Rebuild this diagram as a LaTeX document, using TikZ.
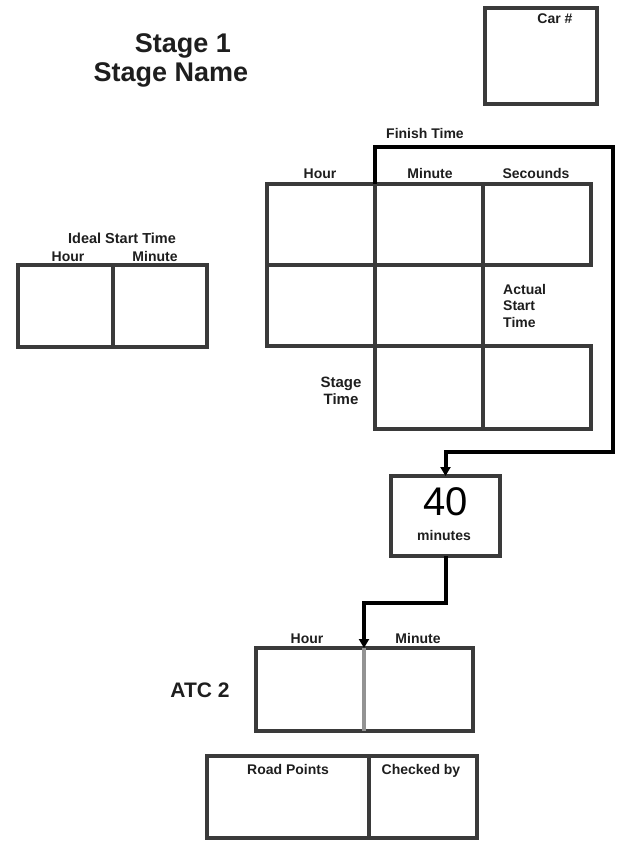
\documentclass[tikz,border=0pt]{standalone}
\usepackage{fontspec}
\setmainfont{Liberation Sans}
\usetikzlibrary{arrows.meta}
\definecolor{boxgray}{HTML}{3A3A3A}
\definecolor{txtgray}{HTML}{1E1E1E}
\begin{document}
\begin{tikzpicture}[x=1pt,y=-1pt,
  cell/.style={draw=boxgray,line width=3.2pt,inner sep=0pt,outer sep=0pt,anchor=north west,rectangle},
  lab/.style={font=\fontsize{14}{15}\selectfont\bfseries,text=txtgray,inner sep=0pt,anchor=base},
  conn/.style={draw=black,line width=4pt,line join=miter,-{Triangle[length=9pt,width=10pt]}}]
\useasboundingbox (0,0) rectangle (628,844);
% title
\node[font=\fontsize{27}{28}\selectfont\bfseries,text=txtgray,inner sep=0pt,anchor=base] (t1) at (183,52) {Stage 1};
\node[font=\fontsize{27}{28}\selectfont\bfseries,text=txtgray,inner sep=0pt,anchor=base] (t2) at (171,81) {Stage Name};
% car box
\node[cell,minimum width=112pt,minimum height=96pt] (car) at (485,8) {};
\node[lab] (carl) at (555,23) {Car \#};
% ideal start time
\node[lab,font=\fontsize{14.5}{15}\selectfont\bfseries] (ist) at (122,243) {Ideal Start Time};
\node[lab] (isth) at (68,261) {Hour};
\node[lab] (istm) at (155,261) {Minute};
\node[cell,minimum width=95pt,minimum height=82pt] (i1) at (18,265) {};
\node[cell,minimum width=94pt,minimum height=82pt] (i2) at (113,265) {};
% main grid
\node[lab] (fin) at (425,138) {Finish Time};
\node[lab] (gh) at (320,178) {Hour};
\node[lab] (gm) at (430,178) {Minute};
\node[lab] (gs) at (536,178) {Secounds};
\node[cell,minimum width=108pt,minimum height=81pt] (c11) at (267,184) {};
\node[cell,minimum width=108pt,minimum height=81pt] (c12) at (375,184) {};
\node[cell,minimum width=108pt,minimum height=81pt] (c13) at (483,184) {};
\node[cell,minimum width=108pt,minimum height=81pt] (c21) at (267,265) {};
\node[cell,minimum width=108pt,minimum height=81pt] (c22) at (375,265) {};
\node[cell,minimum width=108pt,minimum height=83pt] (c32) at (375,346) {};
\node[cell,minimum width=108pt,minimum height=83pt] (c33) at (483,346) {};
\node[lab,align=left,anchor=north west,font=\fontsize{14}{16.5}\selectfont\bfseries] (ast) at (503,284) {Actual\\Start\\Time};
\node[lab,align=center,anchor=center,font=\fontsize{15}{17}\selectfont\bfseries] (stt) at (341,391) {Stage\\Time};
% 40 minutes
\node[cell,minimum width=109pt,minimum height=80pt] (b40) at (391,476) {};
\node[font=\fontsize{40}{40}\selectfont,text=black,inner sep=0pt] (n40) at (446,502) {40};
\node[lab] (min) at (444,540) {minutes};
% ATC 2
\node[font=\fontsize{21}{22}\selectfont\bfseries,text=txtgray,inner sep=0pt] (atc) at (200,690) {ATC 2};
\node[lab] (ah) at (307,643) {Hour};
\node[lab] (am) at (418,643) {Minute};
\node[cell,minimum width=108pt,minimum height=83pt] (a1) at (256,648) {};
\node[cell,minimum width=109pt,minimum height=83pt] (a2) at (364,648) {};
\draw[draw=boxgray!55,line width=3.2pt] (a1.north east) -- (a1.south east);
% road points
\node[cell,minimum width=162pt,minimum height=82pt] (r1) at (207,756) {};
\node[cell,minimum width=108pt,minimum height=82pt] (r2) at (369,756) {};
\node[lab] (rp) at (288,774) {Road Points};
\node[lab] (cb) at (421,774) {Checked by};
% connectors
\coordinate (f1) at (375,147);
\coordinate (f2) at (613,147);
\coordinate (f3) at (613,452);
\draw[conn] (c12.north west) -- (f1) -- (f2) -- (f3) -| (b40.north);
\coordinate (m1) at (364,603);
\draw[conn] (b40.south) |- (m1) -- (a1.north east);
\end{tikzpicture}
\end{document}
